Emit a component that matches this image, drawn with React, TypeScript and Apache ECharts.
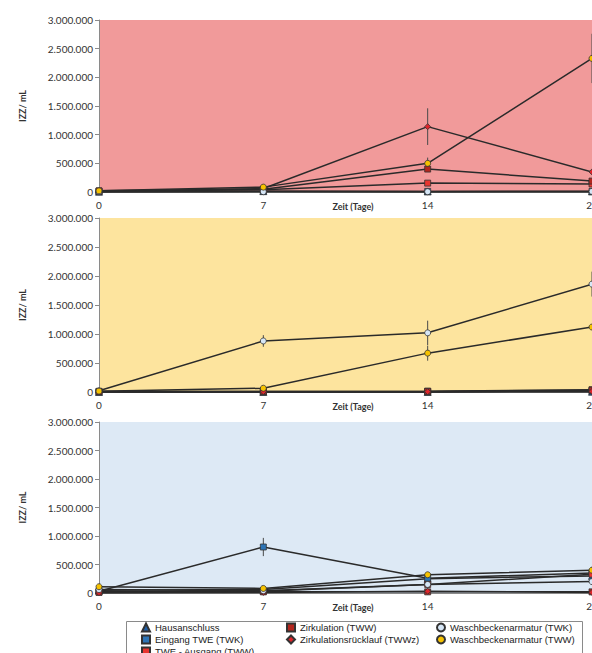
import React, { useEffect, useRef } from "react";
import * as echarts from "echarts";

const days = [0, 7, 14, 21];
const seriesNames = [
  "Hausanschluss",
  "Eingang TWE (TWK)",
  "TWE - Ausgang (TWW)",
  "Zirkulation (TWW)",
  "Zirkulationsrücklauf (TWWz)",
  "Waschbeckenarmatur (TWK)",
  "Waschbeckenarmatur (TWW)",
];
const seriesSymbols = ["triangle", "rect", "rect", "rect", "diamond", "circle", "circle"];
const seriesColors = ["#1F5FA8", "#2E75B6", "#E8352F", "#B3261E", "#E0242A", "#D6E6F6", "#F6C200"];
const panelColors = ["#F19A9A", "#FDE49E", "#DDE9F5"];
const xAxisTitle = "Zeit (Tage)";

// Panel 1 (red)
const p1Hausanschluss = [5000, 15000, 10000, 10000];
const p1Eingang = [10000, 15000, 10000, 10000];
const p1Ausgang = [15000, 40000, 155000, 140000];
const p1Zirkulation = [20000, 50000, 400000, 190000];
const p1Ruecklauf = [10000, 60000, 1140000, 350000];
const p1WaschTWK = [5000, 5000, 5000, 10000];
const p1WaschTWW = [20000, 85000, 500000, 2330000];
const p1RuecklaufErr = [0, 0, 320000, 0];
const p1WaschTWWErr = [0, 0, 100000, 430000];

// Panel 2 (yellow)
const p2Hausanschluss = [0, 0, 0, 5000];
const p2Eingang = [5000, 5000, 5000, 20000];
const p2Ausgang = [10000, 10000, 15000, 40000];
const p2Zirkulation = [10000, 10000, 10000, 30000];
const p2Ruecklauf = [5000, 5000, 5000, 10000];
const p2WaschTWK = [20000, 880000, 1020000, 1860000];
const p2WaschTWW = [15000, 65000, 670000, 1120000];
const p2WaschTWKErr = [0, 100000, 210000, 215000];
const p2WaschTWWErr = [0, 0, 130000, 0];

// Panel 3 (blue)
const p3Hausanschluss = [50000, 60000, 250000, 300000];
const p3Eingang = [30000, 807000, 260000, 350000];
const p3Ausgang = [20000, 30000, 150000, 330000];
const p3Zirkulation = [10000, 20000, 20000, 20000];
const p3Ruecklauf = [5000, 10000, 30000, 10000];
const p3WaschTWK = [60000, 40000, 150000, 200000];
const p3WaschTWW = [110000, 80000, 320000, 400000];
const p3EingangErr = [0, 160000, 0, 0];
const p3WaschTWWErr = [0, 0, 40000, 60000];

const panels = [
  [p1Hausanschluss, p1Eingang, p1Ausgang, p1Zirkulation, p1Ruecklauf, p1WaschTWK, p1WaschTWW],
  [p2Hausanschluss, p2Eingang, p2Ausgang, p2Zirkulation, p2Ruecklauf, p2WaschTWK, p2WaschTWW],
  [p3Hausanschluss, p3Eingang, p3Ausgang, p3Zirkulation, p3Ruecklauf, p3WaschTWK, p3WaschTWW],
];
const panelErrors = [
  [[p1Ruecklauf, p1RuecklaufErr], [p1WaschTWW, p1WaschTWWErr]],
  [[p2WaschTWK, p2WaschTWKErr], [p2WaschTWW, p2WaschTWWErr]],
  [[p3Eingang, p3EingangErr], [p3WaschTWW, p3WaschTWWErr]],
];

const gridTops = [20, 218, 422];
const gridHeights = [172, 174, 171];

const fmt = (v: number) => String(v).replace(/\B(?=(\d{3})+(?!\d))/g, ".");

export default function App() {
  const ref = useRef<HTMLDivElement>(null);
  useEffect(() => {
    if (!ref.current) return;
    const chart = echarts.init(ref.current, undefined, { renderer: "svg" });
    const font = "Lato";
    const grids = gridTops.map((t, i) => ({
      left: 99,
      width: 493,
      top: t,
      height: gridHeights[i],
      show: true,
      backgroundColor: panelColors[i],
      borderWidth: 0,
    }));
    const xAxes = gridTops.map((_, i) => ({
      type: "value",
      gridIndex: i,
      min: 0,
      max: 21,
      interval: 7,
      splitLine: { show: false },
      axisTick: { show: false },
      axisLine: { show: true, lineStyle: { color: "#8a8a8a", width: 1 } },
      axisLabel: { fontSize: 10, color: "#333", fontFamily: font, margin: 8 },
    }));
    const yAxes = gridTops.map((_, i) => ({
      type: "value",
      gridIndex: i,
      min: 0,
      max: 3000000,
      interval: 500000,
      splitLine: { show: false },
      axisTick: { show: true, length: 4, lineStyle: { color: "#8a8a8a" } },
      axisLine: { show: true, lineStyle: { color: "#8a8a8a", width: 1 } },
      axisLabel: { fontSize: 10, color: "#333", fontFamily: font, margin: 6, formatter: fmt },
      name: "IZZ/ mL",
      nameLocation: "middle",
      nameGap: 72,
      nameTextStyle: { fontSize: 9, fontWeight: "bold", color: "#333", fontFamily: font },
    }));
    const series: any[] = [];
    panels.forEach((vals, p) => {
      const errData: number[][] = [];
      panelErrors[p].forEach(([v, e]) => {
        days.forEach((d, i) => {
          if (e[i] > 0) errData.push([d, v[i], e[i]]);
        });
      });
      series.push({
        type: "custom",
        xAxisIndex: p,
        yAxisIndex: p,
        z: 2,
        clip: false,
        data: errData,
        renderItem: (params: any, api: any) => {
          const x = api.value(0);
          const y = api.value(1);
          const e = api.value(2);
          const a = api.coord([x, y + e]);
          const b = api.coord([x, Math.max(0, y - e)]);
          return {
            type: "line",
            shape: { x1: a[0], y1: a[1], x2: b[0], y2: b[1] },
            style: { stroke: "#4a4a4a", lineWidth: 1 },
          };
        },
      });
      vals.forEach((v, s) => {
        series.push({
          type: "line",
          name: seriesNames[s],
          xAxisIndex: p,
          yAxisIndex: p,
          z: 3,
          clip: false,
          data: days.map((d, i) => [d, v[i]]),
          symbol: seriesSymbols[s],
          symbolSize: s === 0 ? 7 : 6,
          lineStyle: { color: "#2a2a2a", width: 1.5 },
          itemStyle: { color: seriesColors[s], borderColor: "#333", borderWidth: 0.8 },
        });
      });
    });
    const legendCommon = {
      orient: "vertical",
      top: 622,
      itemWidth: 8,
      itemHeight: 8,
      itemGap: 1,
      selectedMode: false,
      textStyle: { fontSize: 9.5, lineHeight: 11, color: "#222", fontFamily: "Liberation Sans" },
      padding: 0,
    };
    const legendItem = (i: number) => ({ name: seriesNames[i], icon: seriesSymbols[i] });
    chart.setOption({
      animation: false,
      grid: grids,
      xAxis: xAxes,
      yAxis: yAxes,
      series,
      legend: [
        { ...legendCommon, left: 141, data: [0, 1, 2].map(legendItem) },
        { ...legendCommon, left: 286, data: [3, 4].map(legendItem) },
        { ...legendCommon, left: 436, data: [5, 6].map(legendItem) },
      ],
      graphic: [
        {
          type: "rect",
          z: -1,
          shape: { x: 126.5, y: 621.5, width: 456, height: 60 },
          style: { fill: "#fff", stroke: "#8a8a8a", lineWidth: 1 },
        },
        ...gridTops.map((t, i) => ({
          type: "text",
          x: 353,
          y: t + gridHeights[i] + 14,
          style: {
            text: xAxisTitle,
            fontSize: 9,
            fontWeight: "bold",
            fill: "#333",
            fontFamily: font,
            align: "center",
            verticalAlign: "middle",
          },
        })),
      ],
    });
    return () => chart.dispose();
  }, []);
  return (
    <div style={{ position: "fixed", left: 0, top: 0, width: 592, height: 653, overflow: "hidden", background: "#fff" }}>
      <div ref={ref} style={{ position: "absolute", left: 0, top: 0, width: 620, height: 700 }} />
    </div>
  );
}
